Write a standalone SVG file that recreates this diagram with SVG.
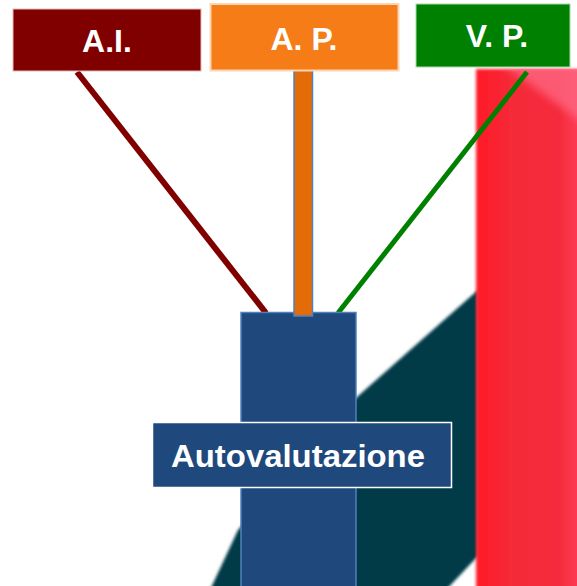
<svg xmlns="http://www.w3.org/2000/svg" width="577" height="586" viewBox="0 0 577 586">
<style>
.lbl{font-family:"Liberation Sans","Open Sans",Arial,sans-serif;font-weight:bold;fill:#ffffff;}
</style>
<defs>
<linearGradient id="redg" x1="0" y1="0" x2="1" y2="0">
<stop offset="0" stop-color="#ff1a28"/>
<stop offset="0.35" stop-color="#f52a38"/>
<stop offset="0.8" stop-color="#f42c3c"/>
<stop offset="1" stop-color="#ff3c58"/>
</linearGradient>
<filter id="soft" x="-5%" y="-5%" width="110%" height="110%"><feGaussianBlur stdDeviation="1.5"/></filter>
<filter id="softer" x="-20%" y="-20%" width="140%" height="140%"><feGaussianBlur stdDeviation="4"/></filter>
<clipPath id="redclip"><rect x="474" y="69" width="110" height="520"/></clipPath>
</defs>
<rect width="577" height="586" fill="#ffffff"/>
<g id="background">
<polygon points="210,590 238,530 357,397 478,290 478,556 446,590" fill="#063b47" filter="url(#soft)"/>
<rect x="476" y="69" width="105" height="520" fill="url(#redg)" filter="url(#soft)"/>
<g clip-path="url(#redclip)">
<polygon points="500,62 590,62 590,128" fill="#ff6a86" opacity="0.75" filter="url(#softer)"/>
</g>
</g>
<g id="connectors">
<line x1="77" y1="72" x2="266" y2="313" stroke="#800000" stroke-width="6"/>
<line x1="527" y1="72" x2="338" y2="313" stroke="#008000" stroke-width="5"/>
</g>
<g id="autovalutazione-base">
<rect x="241" y="312.5" width="115" height="280" fill="#1f497d" stroke="#4f81bd" stroke-width="1.5"/>
</g>
<g id="ap-stem">
<rect x="294" y="69" width="18.5" height="247" fill="#e36c09" stroke="#4f81bd" stroke-width="1.5"/>
</g>
<g id="node-ai">
<rect x="13" y="9" width="188" height="62" fill="#800000" stroke="#e6b9b8" stroke-width="1"/>
<text class="lbl" x="107" y="52" font-size="32" text-anchor="middle">A.I.</text>
</g>
<g id="node-ap">
<rect x="210.5" y="4" width="188" height="66.5" fill="#f57c17" stroke="#fcd5b5" stroke-width="2"/>
<text class="lbl" x="304" y="50" font-size="32" text-anchor="middle">A. P.</text>
</g>
<g id="node-vp">
<rect x="416" y="4" width="154" height="63" fill="#008000" stroke="#a8d8a8" stroke-width="1"/>
<text class="lbl" x="497" y="47" font-size="32" text-anchor="middle">V. P.</text>
</g>
<g id="node-autovalutazione">
<rect x="152.5" y="422.5" width="299" height="65" fill="#1f497d" stroke="#ffffff" stroke-width="1.5"/>
<text class="lbl" x="171" y="467" font-size="32" textLength="254" lengthAdjust="spacingAndGlyphs">Autovalutazione</text>
</g>
</svg>
